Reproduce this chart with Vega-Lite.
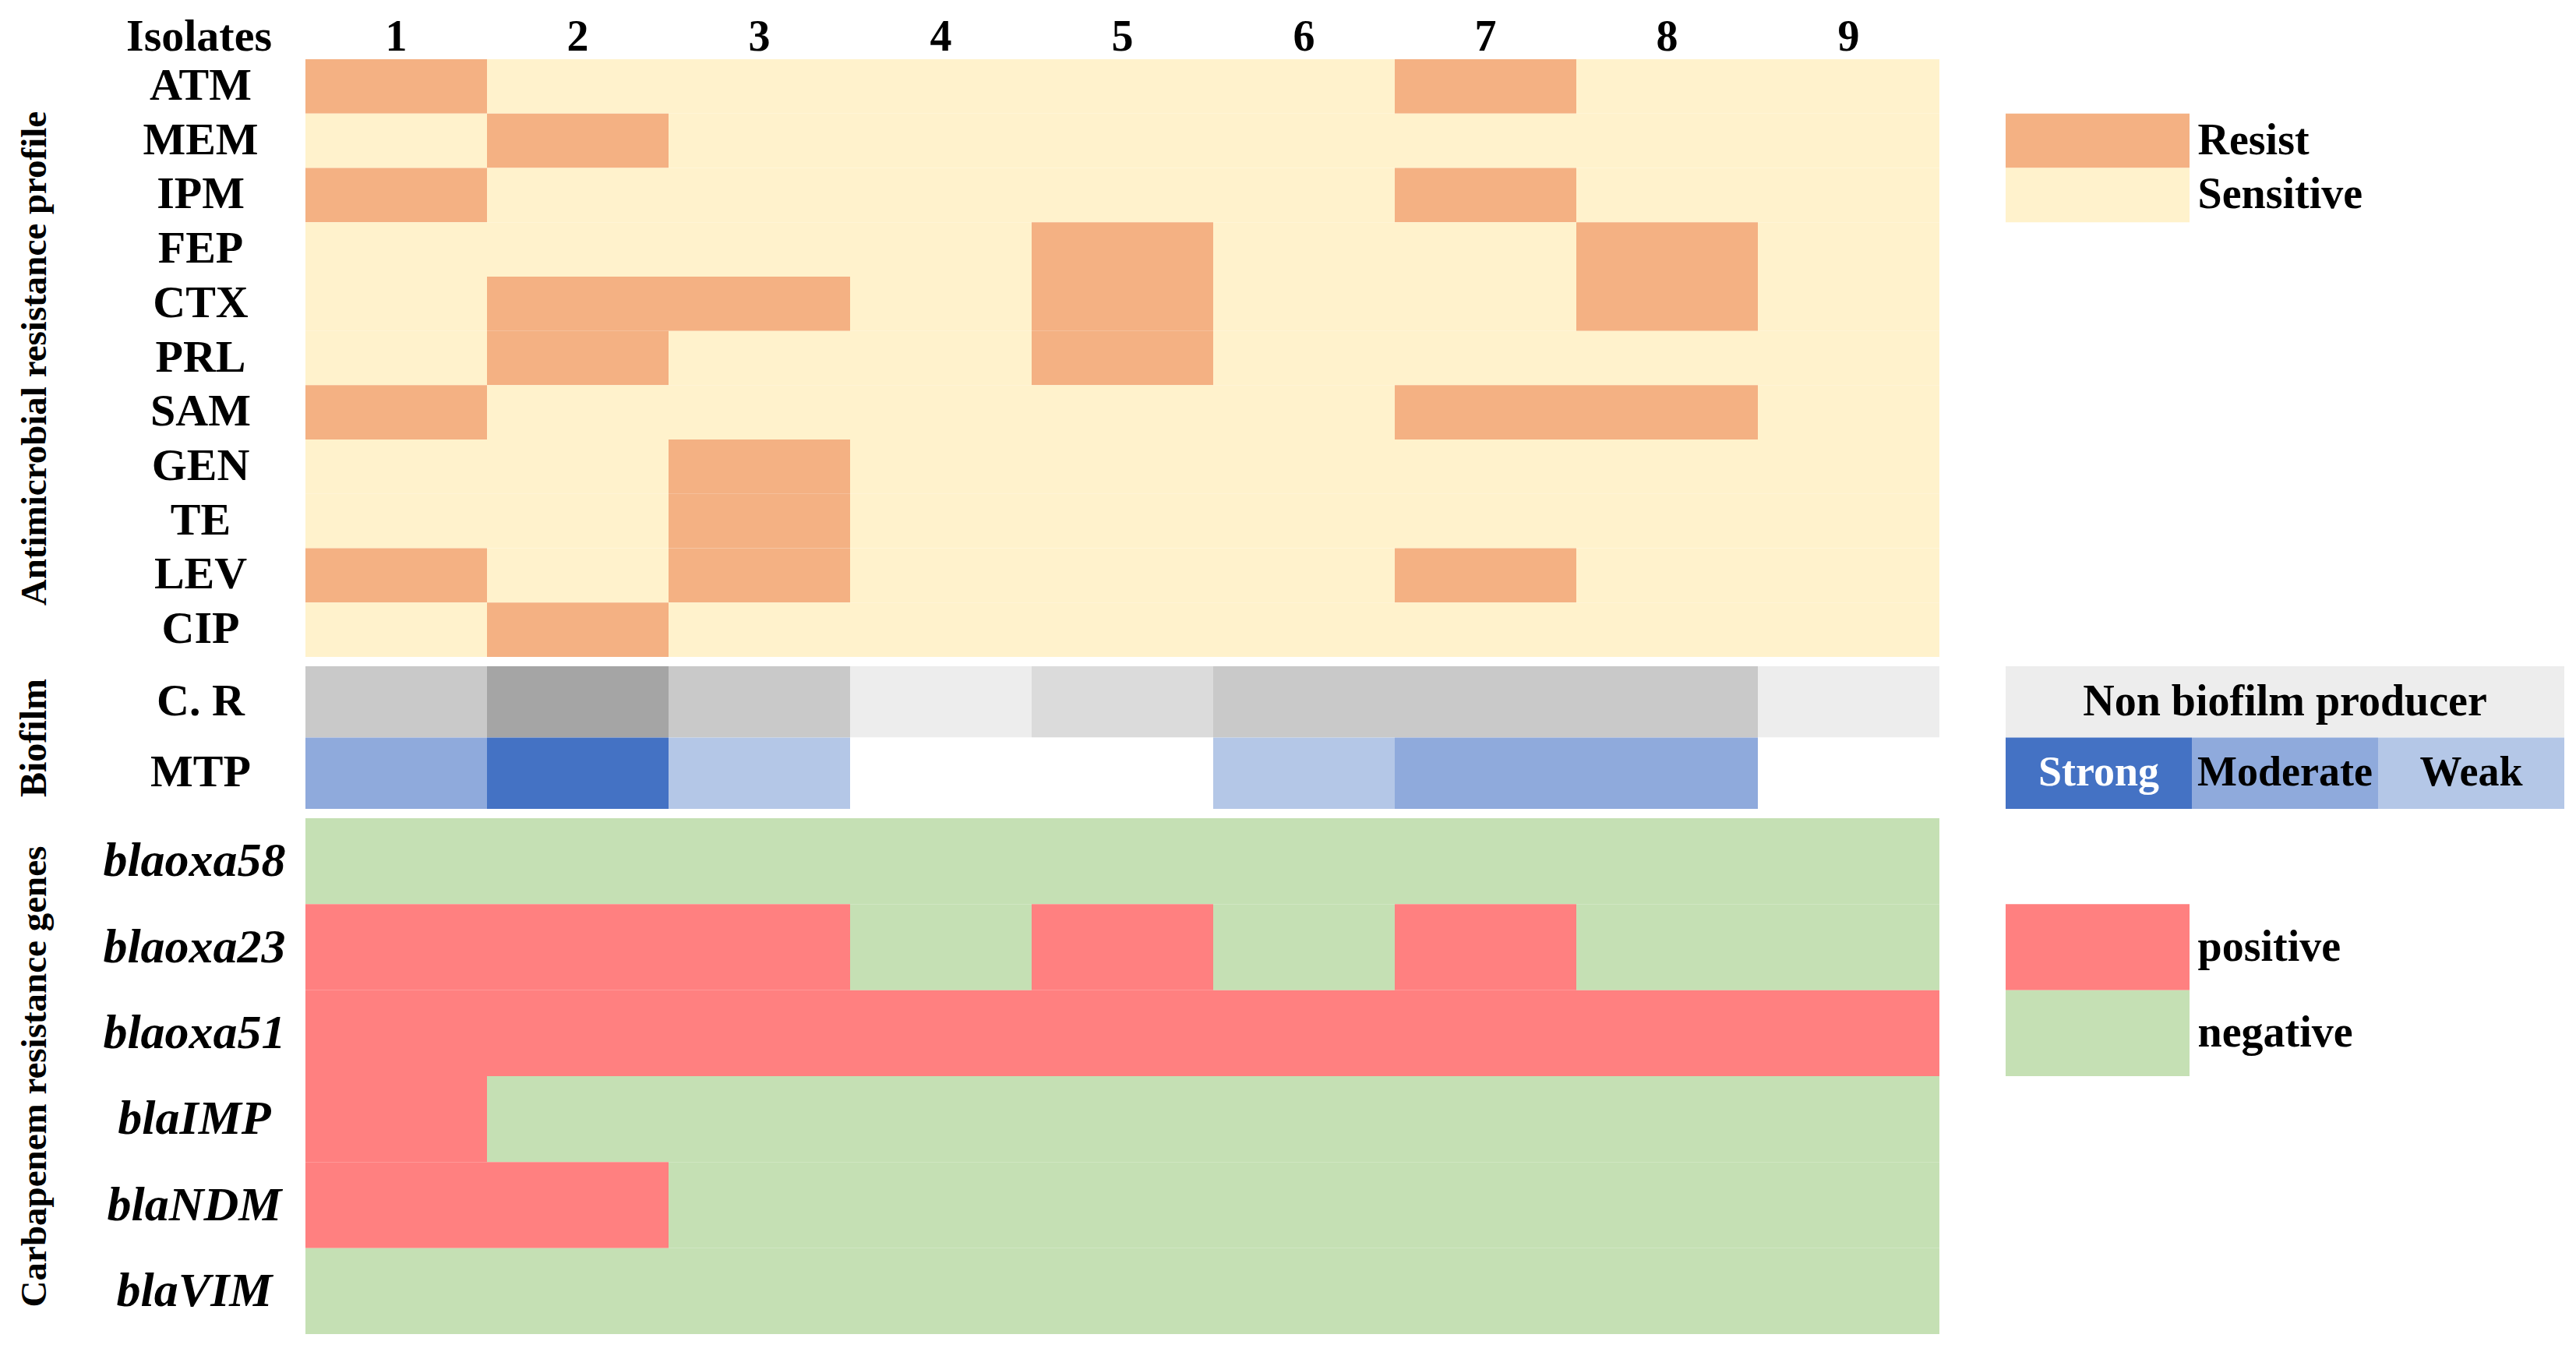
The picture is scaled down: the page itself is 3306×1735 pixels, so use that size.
{
  "$schema": "https://vega.github.io/schema/vega-lite/v6.json",
  "padding": {"left": 20, "top": 18, "right": 0, "bottom": 0},
  "background": "white",
  "config": {
    "font": "Liberation Serif",
    "view": {"stroke": null},
    "axis": {"domain": false, "ticks": false, "tickSize": 0, "grid": false, "labelLimit": 800, "labelFont": "Liberation Serif", "labelFontWeight": "bold", "labelColor": "black", "titleFont": "Liberation Serif", "titleFontWeight": "bold", "titleColor": "black", "titleLimit": 2000},
    "text": {"font": "Liberation Serif", "fontWeight": "bold", "fontSize": 56}
  },
  "datasets": {
    "amr": [
      {"drug":"ATM","isolate":"1","result":"Resist"},{"drug":"ATM","isolate":"2","result":"Sensitive"},{"drug":"ATM","isolate":"3","result":"Sensitive"},{"drug":"ATM","isolate":"4","result":"Sensitive"},{"drug":"ATM","isolate":"5","result":"Sensitive"},{"drug":"ATM","isolate":"6","result":"Sensitive"},{"drug":"ATM","isolate":"7","result":"Resist"},{"drug":"ATM","isolate":"8","result":"Sensitive"},{"drug":"ATM","isolate":"9","result":"Sensitive"},
      {"drug":"MEM","isolate":"1","result":"Sensitive"},{"drug":"MEM","isolate":"2","result":"Resist"},{"drug":"MEM","isolate":"3","result":"Sensitive"},{"drug":"MEM","isolate":"4","result":"Sensitive"},{"drug":"MEM","isolate":"5","result":"Sensitive"},{"drug":"MEM","isolate":"6","result":"Sensitive"},{"drug":"MEM","isolate":"7","result":"Sensitive"},{"drug":"MEM","isolate":"8","result":"Sensitive"},{"drug":"MEM","isolate":"9","result":"Sensitive"},
      {"drug":"IPM","isolate":"1","result":"Resist"},{"drug":"IPM","isolate":"2","result":"Sensitive"},{"drug":"IPM","isolate":"3","result":"Sensitive"},{"drug":"IPM","isolate":"4","result":"Sensitive"},{"drug":"IPM","isolate":"5","result":"Sensitive"},{"drug":"IPM","isolate":"6","result":"Sensitive"},{"drug":"IPM","isolate":"7","result":"Resist"},{"drug":"IPM","isolate":"8","result":"Sensitive"},{"drug":"IPM","isolate":"9","result":"Sensitive"},
      {"drug":"FEP","isolate":"1","result":"Sensitive"},{"drug":"FEP","isolate":"2","result":"Sensitive"},{"drug":"FEP","isolate":"3","result":"Sensitive"},{"drug":"FEP","isolate":"4","result":"Sensitive"},{"drug":"FEP","isolate":"5","result":"Resist"},{"drug":"FEP","isolate":"6","result":"Sensitive"},{"drug":"FEP","isolate":"7","result":"Sensitive"},{"drug":"FEP","isolate":"8","result":"Resist"},{"drug":"FEP","isolate":"9","result":"Sensitive"},
      {"drug":"CTX","isolate":"1","result":"Sensitive"},{"drug":"CTX","isolate":"2","result":"Resist"},{"drug":"CTX","isolate":"3","result":"Resist"},{"drug":"CTX","isolate":"4","result":"Sensitive"},{"drug":"CTX","isolate":"5","result":"Resist"},{"drug":"CTX","isolate":"6","result":"Sensitive"},{"drug":"CTX","isolate":"7","result":"Sensitive"},{"drug":"CTX","isolate":"8","result":"Resist"},{"drug":"CTX","isolate":"9","result":"Sensitive"},
      {"drug":"PRL","isolate":"1","result":"Sensitive"},{"drug":"PRL","isolate":"2","result":"Resist"},{"drug":"PRL","isolate":"3","result":"Sensitive"},{"drug":"PRL","isolate":"4","result":"Sensitive"},{"drug":"PRL","isolate":"5","result":"Resist"},{"drug":"PRL","isolate":"6","result":"Sensitive"},{"drug":"PRL","isolate":"7","result":"Sensitive"},{"drug":"PRL","isolate":"8","result":"Sensitive"},{"drug":"PRL","isolate":"9","result":"Sensitive"},
      {"drug":"SAM","isolate":"1","result":"Resist"},{"drug":"SAM","isolate":"2","result":"Sensitive"},{"drug":"SAM","isolate":"3","result":"Sensitive"},{"drug":"SAM","isolate":"4","result":"Sensitive"},{"drug":"SAM","isolate":"5","result":"Sensitive"},{"drug":"SAM","isolate":"6","result":"Sensitive"},{"drug":"SAM","isolate":"7","result":"Resist"},{"drug":"SAM","isolate":"8","result":"Resist"},{"drug":"SAM","isolate":"9","result":"Sensitive"},
      {"drug":"GEN","isolate":"1","result":"Sensitive"},{"drug":"GEN","isolate":"2","result":"Sensitive"},{"drug":"GEN","isolate":"3","result":"Resist"},{"drug":"GEN","isolate":"4","result":"Sensitive"},{"drug":"GEN","isolate":"5","result":"Sensitive"},{"drug":"GEN","isolate":"6","result":"Sensitive"},{"drug":"GEN","isolate":"7","result":"Sensitive"},{"drug":"GEN","isolate":"8","result":"Sensitive"},{"drug":"GEN","isolate":"9","result":"Sensitive"},
      {"drug":"TE","isolate":"1","result":"Sensitive"},{"drug":"TE","isolate":"2","result":"Sensitive"},{"drug":"TE","isolate":"3","result":"Resist"},{"drug":"TE","isolate":"4","result":"Sensitive"},{"drug":"TE","isolate":"5","result":"Sensitive"},{"drug":"TE","isolate":"6","result":"Sensitive"},{"drug":"TE","isolate":"7","result":"Sensitive"},{"drug":"TE","isolate":"8","result":"Sensitive"},{"drug":"TE","isolate":"9","result":"Sensitive"},
      {"drug":"LEV","isolate":"1","result":"Resist"},{"drug":"LEV","isolate":"2","result":"Sensitive"},{"drug":"LEV","isolate":"3","result":"Resist"},{"drug":"LEV","isolate":"4","result":"Sensitive"},{"drug":"LEV","isolate":"5","result":"Sensitive"},{"drug":"LEV","isolate":"6","result":"Sensitive"},{"drug":"LEV","isolate":"7","result":"Resist"},{"drug":"LEV","isolate":"8","result":"Sensitive"},{"drug":"LEV","isolate":"9","result":"Sensitive"},
      {"drug":"CIP","isolate":"1","result":"Sensitive"},{"drug":"CIP","isolate":"2","result":"Resist"},{"drug":"CIP","isolate":"3","result":"Sensitive"},{"drug":"CIP","isolate":"4","result":"Sensitive"},{"drug":"CIP","isolate":"5","result":"Sensitive"},{"drug":"CIP","isolate":"6","result":"Sensitive"},{"drug":"CIP","isolate":"7","result":"Sensitive"},{"drug":"CIP","isolate":"8","result":"Sensitive"},{"drug":"CIP","isolate":"9","result":"Sensitive"}
    ],
    "bio": [
      {"test":"C. R","isolate":"1","level":"Moderate"},{"test":"C. R","isolate":"2","level":"Strong"},{"test":"C. R","isolate":"3","level":"Moderate"},{"test":"C. R","isolate":"4","level":"Non"},{"test":"C. R","isolate":"5","level":"Weak"},{"test":"C. R","isolate":"6","level":"Moderate"},{"test":"C. R","isolate":"7","level":"Moderate"},{"test":"C. R","isolate":"8","level":"Moderate"},{"test":"C. R","isolate":"9","level":"Non"},
      {"test":"MTP","isolate":"1","level":"Moderate"},{"test":"MTP","isolate":"2","level":"Strong"},{"test":"MTP","isolate":"3","level":"Weak"},{"test":"MTP","isolate":"4","level":"Non"},{"test":"MTP","isolate":"5","level":"Non"},{"test":"MTP","isolate":"6","level":"Weak"},{"test":"MTP","isolate":"7","level":"Moderate"},{"test":"MTP","isolate":"8","level":"Moderate"},{"test":"MTP","isolate":"9","level":"Non"}
    ],
    "genes": [
      {"gene":"blaoxa58","isolate":"1","result":"negative"},{"gene":"blaoxa58","isolate":"2","result":"negative"},{"gene":"blaoxa58","isolate":"3","result":"negative"},{"gene":"blaoxa58","isolate":"4","result":"negative"},{"gene":"blaoxa58","isolate":"5","result":"negative"},{"gene":"blaoxa58","isolate":"6","result":"negative"},{"gene":"blaoxa58","isolate":"7","result":"negative"},{"gene":"blaoxa58","isolate":"8","result":"negative"},{"gene":"blaoxa58","isolate":"9","result":"negative"},
      {"gene":"blaoxa23","isolate":"1","result":"positive"},{"gene":"blaoxa23","isolate":"2","result":"positive"},{"gene":"blaoxa23","isolate":"3","result":"positive"},{"gene":"blaoxa23","isolate":"4","result":"negative"},{"gene":"blaoxa23","isolate":"5","result":"positive"},{"gene":"blaoxa23","isolate":"6","result":"negative"},{"gene":"blaoxa23","isolate":"7","result":"positive"},{"gene":"blaoxa23","isolate":"8","result":"negative"},{"gene":"blaoxa23","isolate":"9","result":"negative"},
      {"gene":"blaoxa51","isolate":"1","result":"positive"},{"gene":"blaoxa51","isolate":"2","result":"positive"},{"gene":"blaoxa51","isolate":"3","result":"positive"},{"gene":"blaoxa51","isolate":"4","result":"positive"},{"gene":"blaoxa51","isolate":"5","result":"positive"},{"gene":"blaoxa51","isolate":"6","result":"positive"},{"gene":"blaoxa51","isolate":"7","result":"positive"},{"gene":"blaoxa51","isolate":"8","result":"positive"},{"gene":"blaoxa51","isolate":"9","result":"positive"},
      {"gene":"blaIMP","isolate":"1","result":"positive"},{"gene":"blaIMP","isolate":"2","result":"negative"},{"gene":"blaIMP","isolate":"3","result":"negative"},{"gene":"blaIMP","isolate":"4","result":"negative"},{"gene":"blaIMP","isolate":"5","result":"negative"},{"gene":"blaIMP","isolate":"6","result":"negative"},{"gene":"blaIMP","isolate":"7","result":"negative"},{"gene":"blaIMP","isolate":"8","result":"negative"},{"gene":"blaIMP","isolate":"9","result":"negative"},
      {"gene":"blaNDM","isolate":"1","result":"positive"},{"gene":"blaNDM","isolate":"2","result":"positive"},{"gene":"blaNDM","isolate":"3","result":"negative"},{"gene":"blaNDM","isolate":"4","result":"negative"},{"gene":"blaNDM","isolate":"5","result":"negative"},{"gene":"blaNDM","isolate":"6","result":"negative"},{"gene":"blaNDM","isolate":"7","result":"negative"},{"gene":"blaNDM","isolate":"8","result":"negative"},{"gene":"blaNDM","isolate":"9","result":"negative"},
      {"gene":"blaVIM","isolate":"1","result":"negative"},{"gene":"blaVIM","isolate":"2","result":"negative"},{"gene":"blaVIM","isolate":"3","result":"negative"},{"gene":"blaVIM","isolate":"4","result":"negative"},{"gene":"blaVIM","isolate":"5","result":"negative"},{"gene":"blaVIM","isolate":"6","result":"negative"},{"gene":"blaVIM","isolate":"7","result":"negative"},{"gene":"blaVIM","isolate":"8","result":"negative"},{"gene":"blaVIM","isolate":"9","result":"negative"}
    ],
    "amrLegend": [{"label":"Resist"},{"label":"Sensitive"}],
    "bioLegend": [
      {"row":"top","level":"Non biofilm producer"},
      {"row":"bottom","level":"Strong"},
      {"row":"bottom","level":"Moderate"},
      {"row":"bottom","level":"Weak"}
    ],
    "geneLegend": [{"label":"positive"},{"label":"negative"}]
  },
  "spacing": 12,
  "vconcat": [
    {
      "spacing": 85,
      "hconcat": [
        {
          "width": 2097, "height": 767,
          "data": {"name": "amr"},
          "mark": {"type": "rect"},
          "encoding": {
            "x": {"field": "isolate", "type": "nominal", "scale": {"domain": ["1","2","3","4","5","6","7","8","9"], "paddingInner": 0, "paddingOuter": 0},
                  "axis": {"orient": "top", "labelAngle": 0, "labelFontSize": 56, "labelPadding": 29, "labelBaseline": "middle", "title": "Isolates", "titleFontSize": 58, "titleX": -137, "titleY": -29, "titleAlign": "center", "titleBaseline": "middle", "titleAngle": 0}},
            "y": {"field": "drug", "type": "nominal", "scale": {"domain": ["ATM","MEM","IPM","FEP","CTX","PRL","SAM","GEN","TE","LEV","CIP"], "paddingInner": 0, "paddingOuter": 0},
                  "axis": {"labelFontSize": 58, "labelAlign": "center", "labelBaseline": "middle", "labelPadding": 135, "minExtent": 300, "maxExtent": 300, "title": "Antimicrobial resistance profile", "titleFontSize": 47, "titlePadding": 24}},
            "color": {"field": "result", "type": "nominal", "scale": {"domain": ["Resist","Sensitive"], "range": ["#f4b183","#fff2cc"]}, "legend": null}
          }
        },
        {
          "width": 236, "height": 767,
          "data": {"name": "amrLegend"},
          "mark": {"type": "rect"},
          "encoding": {
            "y": {"field": "label", "type": "nominal", "scale": {"domain": ["a0","Resist","Sensitive","a3","a4","a5","a6","a7","a8","a9","a10"], "paddingInner": 0, "paddingOuter": 0},
                  "axis": {"orient": "right", "title": null, "labelFontSize": 56, "labelPadding": 10, "labelBaseline": "middle", "labelExpr": "indexof(['Resist','Sensitive'], datum.value) >= 0 ? datum.value : ''"}},
            "color": {"field": "label", "type": "nominal", "scale": {"domain": ["Resist","Sensitive"], "range": ["#f4b183","#fff2cc"]}, "legend": null}
          }
        }
      ],
      "resolve": {"scale": {"color": "independent", "x": "independent", "y": "independent"}}
    },
    {
      "spacing": 85,
      "hconcat": [
        {
          "width": 2097, "height": 183,
          "data": {"name": "bio"},
          "encoding": {
            "x": {"field": "isolate", "type": "nominal", "scale": {"domain": ["1","2","3","4","5","6","7","8","9"], "paddingInner": 0, "paddingOuter": 0}, "axis": null},
            "y": {"field": "test", "type": "nominal", "scale": {"domain": ["C. R","MTP"], "paddingInner": 0, "paddingOuter": 0},
                  "axis": {"labelFontSize": 58, "labelAlign": "center", "labelBaseline": "middle", "labelPadding": 135, "minExtent": 300, "maxExtent": 300, "title": "Biofilm", "titleFontSize": 48, "titlePadding": 24}}
          },
          "layer": [
            {
              "transform": [{"filter": "datum.test === 'C. R'"}],
              "mark": {"type": "rect"},
              "encoding": {"color": {"field": "level", "type": "nominal", "scale": {"domain": ["Strong","Moderate","Weak","Non"], "range": ["#a5a5a5","#c9c9c9","#dbdbdb","#ededed"]}, "legend": null}}
            },
            {
              "transform": [{"filter": "datum.test === 'MTP'"}],
              "mark": {"type": "rect"},
              "encoding": {"color": {"field": "level", "type": "nominal", "scale": {"domain": ["Strong","Moderate","Weak","Non"], "range": ["#4472c4","#8faadc","#b4c7e7","#ffffff"]}, "legend": null}}
            }
          ],
          "resolve": {"scale": {"color": "independent"}}
        },
        {
          "width": 717, "height": 183,
          "data": {"name": "bioLegend"},
          "layer": [
            {
              "transform": [{"filter": "datum.row === 'top'"}],
              "mark": {"type": "rect"},
              "encoding": {
                "y": {"field": "row", "type": "nominal", "scale": {"domain": ["top","bottom"], "paddingInner": 0, "paddingOuter": 0}, "axis": null},
                "color": {"field": "level", "type": "nominal", "scale": {"domain": ["Non biofilm producer","Strong","Moderate","Weak"], "range": ["#ededed","#4472c4","#8faadc","#b4c7e7"]}, "legend": null}
              }
            },
            {
              "transform": [{"filter": "datum.row === 'top'"}],
              "mark": {"type": "text", "baseline": "middle", "align": "center"},
              "encoding": {
                "y": {"field": "row", "type": "nominal", "axis": null},
                "text": {"field": "level"},
                "color": {"value": "black"}
              }
            },
            {
              "transform": [{"filter": "datum.row === 'bottom'"}],
              "mark": {"type": "rect"},
              "encoding": {
                "x": {"field": "level", "type": "nominal", "scale": {"domain": ["Strong","Moderate","Weak"], "paddingInner": 0, "paddingOuter": 0}, "axis": null},
                "y": {"field": "row", "type": "nominal", "axis": null},
                "color": {"field": "level", "type": "nominal", "legend": null}
              }
            },
            {
              "transform": [{"filter": "datum.row === 'bottom'"}],
              "mark": {"type": "text", "baseline": "middle", "align": "center", "fontSize": 54},
              "encoding": {
                "x": {"field": "level", "type": "nominal", "axis": null},
                "y": {"field": "row", "type": "nominal", "axis": null},
                "text": {"field": "level"},
                "color": {"condition": {"test": "datum.level === 'Strong'", "value": "white"}, "value": "black"}
              }
            }
          ]
        }
      ],
      "resolve": {"scale": {"color": "independent", "x": "independent", "y": "independent"}}
    },
    {
      "spacing": 85,
      "hconcat": [
        {
          "width": 2097, "height": 662,
          "data": {"name": "genes"},
          "mark": {"type": "rect"},
          "encoding": {
            "x": {"field": "isolate", "type": "nominal", "scale": {"domain": ["1","2","3","4","5","6","7","8","9"], "paddingInner": 0, "paddingOuter": 0}, "axis": null},
            "y": {"field": "gene", "type": "nominal", "scale": {"domain": ["blaoxa58","blaoxa23","blaoxa51","blaIMP","blaNDM","blaVIM"], "paddingInner": 0, "paddingOuter": 0},
                  "axis": {"labelFontSize": 62, "labelFontStyle": "italic", "labelAlign": "center", "labelBaseline": "middle", "labelPadding": 143, "minExtent": 300, "maxExtent": 300, "title": "Carbapenem resistance genes", "titleFontSize": 47, "titlePadding": 24}},
            "color": {"field": "result", "type": "nominal", "scale": {"domain": ["positive","negative"], "range": ["#ff8080","#c5e0b4"]}, "legend": null}
          }
        },
        {
          "width": 236, "height": 662,
          "data": {"name": "geneLegend"},
          "mark": {"type": "rect"},
          "encoding": {
            "y": {"field": "label", "type": "nominal", "scale": {"domain": ["g0","positive","negative","g3","g4","g5"], "paddingInner": 0, "paddingOuter": 0},
                  "axis": {"orient": "right", "title": null, "labelFontSize": 56, "labelPadding": 10, "labelBaseline": "middle", "labelExpr": "indexof(['positive','negative'], datum.value) >= 0 ? datum.value : ''"}},
            "color": {"field": "label", "type": "nominal", "scale": {"domain": ["positive","negative"], "range": ["#ff8080","#c5e0b4"]}, "legend": null}
          }
        }
      ],
      "resolve": {"scale": {"color": "independent", "x": "independent", "y": "independent"}}
    }
  ],
  "resolve": {"scale": {"color": "independent", "x": "independent", "y": "independent"}}
}
